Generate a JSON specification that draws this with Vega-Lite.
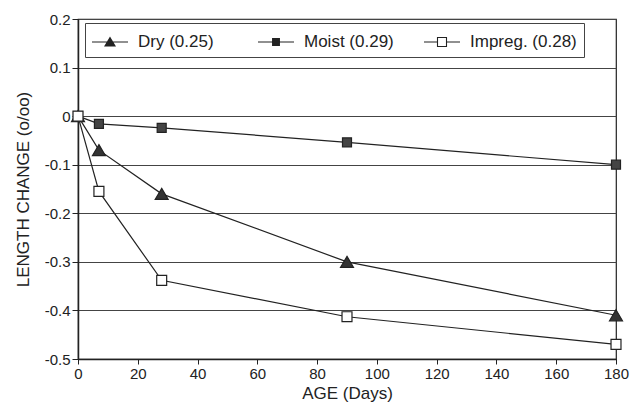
{
  "$schema": "https://vega.github.io/schema/vega-lite/v6.json",
  "autosize": {"type": "none"},
  "padding": {"left": 78, "top": 19, "right": 17, "bottom": 44},
  "width": 538,
  "height": 340,
  "background": "white",
  "config": {
    "font": "Liberation Sans",
    "view": {"stroke": "#222", "strokeWidth": 1.2},
    "axis": {"labelFont": "Liberation Sans", "titleFont": "Liberation Sans", "labelColor": "#222", "titleColor": "#222", "titleFontWeight": "normal", "domainColor": "#222", "tickColor": "#222", "domainWidth": 1.5}
  },
  "data": {"values": [
    {"series": "Dry (0.25)", "age": 0, "change": 0},
    {"series": "Dry (0.25)", "age": 7, "change": -0.07},
    {"series": "Dry (0.25)", "age": 28, "change": -0.16},
    {"series": "Dry (0.25)", "age": 90, "change": -0.3},
    {"series": "Dry (0.25)", "age": 180, "change": -0.41},
    {"series": "Moist (0.29)", "age": 0, "change": 0},
    {"series": "Moist (0.29)", "age": 7, "change": -0.016},
    {"series": "Moist (0.29)", "age": 28, "change": -0.024},
    {"series": "Moist (0.29)", "age": 90, "change": -0.054},
    {"series": "Moist (0.29)", "age": 180, "change": -0.1},
    {"series": "Impreg. (0.28)", "age": 0, "change": 0},
    {"series": "Impreg. (0.28)", "age": 7, "change": -0.155},
    {"series": "Impreg. (0.28)", "age": 28, "change": -0.338},
    {"series": "Impreg. (0.28)", "age": 90, "change": -0.413},
    {"series": "Impreg. (0.28)", "age": 180, "change": -0.47}
  ]},
  "encoding": {
    "x": {"field": "age", "type": "quantitative", "scale": {"domain": [0, 180], "nice": false},
      "axis": {"title": "AGE (Days)", "values": [0, 20, 40, 60, 80, 100, 120, 140, 160, 180], "grid": false, "labelFontSize": 15, "titleFontSize": 17, "tickSize": 5, "labelPadding": 2, "titlePadding": 4, "labelFlush": false}},
    "y": {"field": "change", "type": "quantitative", "scale": {"domain": [-0.5, 0.2], "nice": false, "zero": false},
      "axis": {"title": "LENGTH CHANGE (o/oo)", "values": [-0.5, -0.4, -0.3, -0.2, -0.1, 0, 0.1, 0.2], "labelExpr": "replace(format(datum.value, '.1~f'), '\u2212', '-')", "grid": true, "gridColor": "#444", "gridWidth": 1.2, "gridOpacity": 1, "labelFontSize": 15, "titleFontSize": 17, "tickSize": 6, "labelPadding": 2, "titlePadding": 12, "labelFlush": false}}
  },
  "resolve": {"scale": {"shape": "independent"}},
  "layer": [
    {
      "mark": {"type": "line", "color": "#222", "strokeWidth": 1.2},
      "encoding": {"detail": {"field": "series"}}
    },
    {
      "mark": {"type": "point", "filled": false, "stroke": "#222", "strokeWidth": 1.2, "opacity": 1, "size": 144},
      "encoding": {
        "shape": {"field": "series", "type": "nominal",
          "scale": {"domain": ["Dry (0.25)", "Moist (0.29)", "Impreg. (0.28)"], "range": ["M0,-0.92L1.08,0.92L-1.08,0.92Z", "M-0.75,-0.75H0.75V0.75H-0.75Z", "M-0.83,-0.83H0.83V0.83H-0.83Z"]},
          "legend": null},
        "fill": {"field": "series", "type": "nominal", "scale": {"domain": ["Dry (0.25)", "Moist (0.29)", "Impreg. (0.28)"], "range": ["#333", "#444", "white"]}, "legend": null}
      }
    },
    {
      "transform": [{"filter": "datum.age < 0"}],
      "mark": {"type": "point", "filled": true, "color": "#222", "strokeWidth": 0, "opacity": 1, "size": 576},
      "encoding": {
        "shape": {"field": "series", "type": "nominal",
          "scale": {"domain": ["Dry (0.25)", "Moist (0.29)", "Impreg. (0.28)"], "range": [
            "M-1,-0.05H2V0.05H-1ZM0.5,-0.45L1,0.38L0,0.38Z",
            "M-1,-0.05H2V0.05H-1ZM0.17,-0.33H0.83V0.33H0.17Z",
            "M-1,-0.05H0.08V0.05H-1ZM0.92,-0.05H2V0.05H0.92ZM0.08,-0.42H0.92V0.42H0.08ZM0.17,-0.33V0.33H0.83V-0.33Z"
          ]},
          "legend": {
            "title": null, "orient": "none", "legendX": 7, "legendY": 4, "direction": "horizontal", "columns": 3,
            "gridAlign": "all", "columnPadding": 13, "padding": 7,
            "strokeColor": "#444", "fillColor": "white",
            "labelFont": "Liberation Sans", "labelFontSize": 17, "labelColor": "#222", "labelOffset": 22, "labelLimit": 300,
            "symbolSize": 576, "symbolFillColor": "#222", "symbolStrokeWidth": 0, "symbolOpacity": 1
          }}
      }
    }
  ]
}
